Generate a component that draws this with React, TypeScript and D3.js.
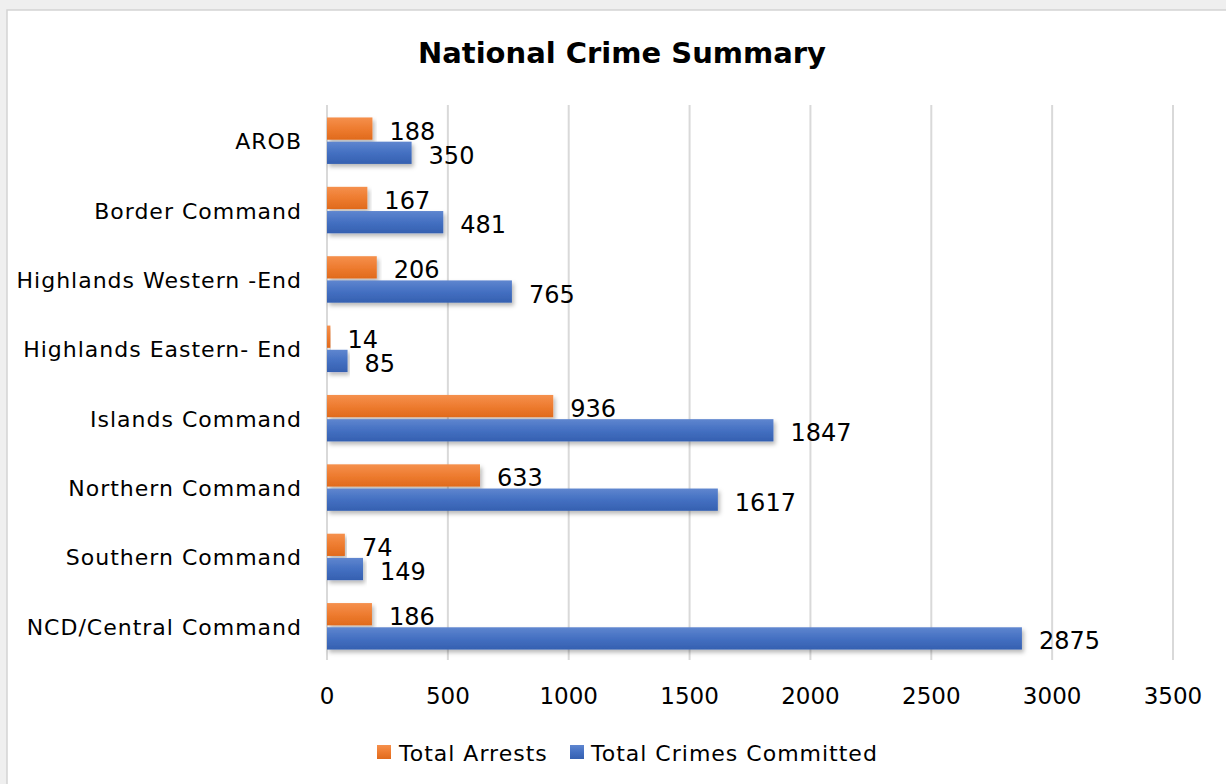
import React from "react";
import * as d3 from "d3";

const categories = [
  "AROB",
  "Border Command",
  "Highlands Western -End",
  "Highlands Eastern- End",
  "Islands Command",
  "Northern Command",
  "Southern Command",
  "NCD/Central Command",
];
const totalArrests = [188, 167, 206, 14, 936, 633, 74, 186];
const totalCrimes = [350, 481, 765, 85, 1847, 1617, 149, 2875];
const xTicks = [0, 500, 1000, 1500, 2000, 2500, 3000, 3500];
const seriesNames = ["Total Arrests", "Total Crimes Committed"];

const W = 1226;
const H = 784;
const FONT = "'DejaVu Sans', sans-serif";

export default function App() {
  const x = d3.scaleLinear().domain([0, 3500]).range([327, 1173]);
  const y = d3.scaleBand<string>().domain(categories).range([106, 661]).paddingInner(0.33).paddingOuter(0.165);
  const sub = d3.scaleBand<string>().domain(["a", "c"]).range([0, y.bandwidth()]).paddingInner(0.08);

  const series = [
    { key: "a", values: totalArrests, grad: "gOrange" },
    { key: "c", values: totalCrimes, grad: "gBlue" },
  ];

  return (
    <svg width={W} height={H} style={{ position: "absolute", left: 0, top: 0 }} fontFamily={FONT}>
      <defs>
        <linearGradient id="gOrange" x1="0" y1="0" x2="0" y2="1">
          <stop offset="0" stopColor="#F5904D" />
          <stop offset="0.5" stopColor="#EE7C30" />
          <stop offset="1" stopColor="#E06A1C" />
        </linearGradient>
        <linearGradient id="gBlue" x1="0" y1="0" x2="0" y2="1">
          <stop offset="0" stopColor="#5F86CF" />
          <stop offset="0.5" stopColor="#4470C2" />
          <stop offset="1" stopColor="#3560B0" />
        </linearGradient>
        <filter id="shadow" x="-5%" y="-30%" width="115%" height="180%">
          <feDropShadow dx="2" dy="3" stdDeviation="2" floodColor="#000" floodOpacity="0.28" />
        </filter>
      </defs>
      <rect x={0} y={0} width={W} height={H} fill="#efefef" />
      <rect x={7} y={10} width={W} height={H} fill="#ffffff" stroke="#d4d4d4" strokeWidth={1.5} />
      <text x={622} y={53} textAnchor="middle" dominantBaseline="central" fontSize={29} fontWeight="bold" fill="#000">
        National Crime Summary
      </text>
      {xTicks.map((t) => (
        <line key={t} x1={x(t)} x2={x(t)} y1={105} y2={660} stroke="#d9d9d9" strokeWidth={2} />
      ))}
      {xTicks.map((t) => (
        <text key={"t" + t} x={x(t)} y={696} textAnchor="middle" dominantBaseline="central" fontSize={23} fill="#000">
          {t}
        </text>
      ))}
      {categories.map((c) => (
        <text key={c} x={302} y={(y(c) ?? 0) + y.bandwidth() / 2 + 1} textAnchor="end" dominantBaseline="central" fontSize={22} letterSpacing={1} fill="#000">
          {c}
        </text>
      ))}
      {series.map((s) =>
        categories.map((c, i) => {
          const by = (y(c) ?? 0) + (sub(s.key) ?? 0);
          const v = s.values[i];
          return (
            <g key={s.key + c}>
              <rect x={x(0)} y={by} width={x(v) - x(0)} height={sub.bandwidth()} fill={`url(#${s.grad})`} filter="url(#shadow)" />
              <text x={x(v) + 17} y={by + sub.bandwidth() / 2 + 3} dominantBaseline="central" fontSize={24} fill="#000">
                {v}
              </text>
            </g>
          );
        })
      )}
      <g>
        <rect x={377} y={745} width={14} height={14} fill="url(#gOrange)" />
        <text x={399} y={753} dominantBaseline="central" fontSize={22} letterSpacing={1} fill="#000">{seriesNames[0]}</text>
        <rect x={570} y={745} width={14} height={14} fill="url(#gBlue)" />
        <text x={591} y={753} dominantBaseline="central" fontSize={22} letterSpacing={1} fill="#000">{seriesNames[1]}</text>
      </g>
    </svg>
  );
}
